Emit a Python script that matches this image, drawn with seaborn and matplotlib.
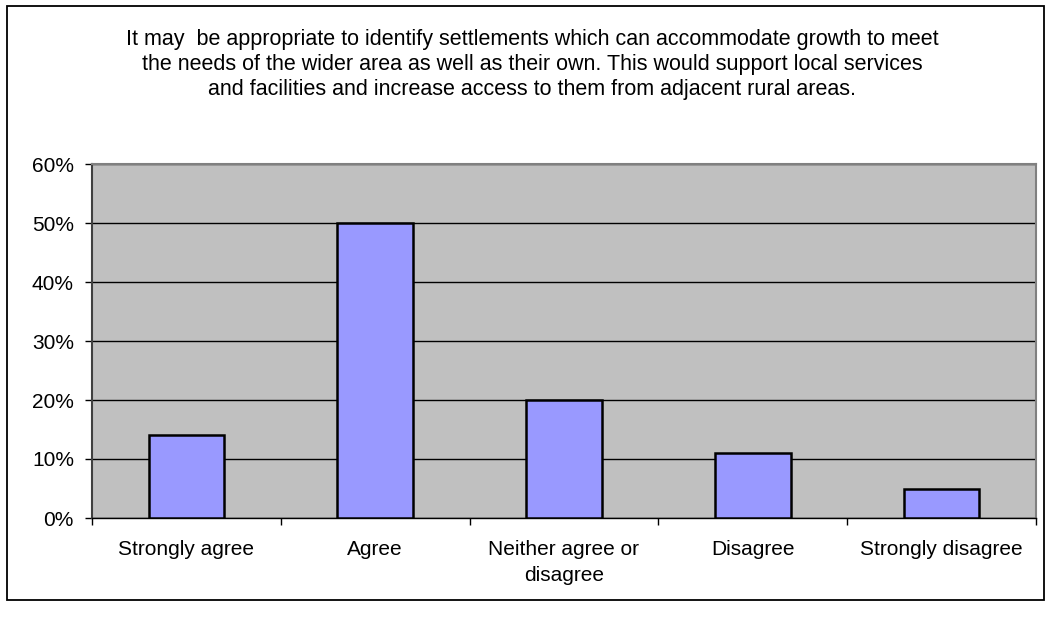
import matplotlib
matplotlib.use("Agg")
import matplotlib.pyplot as plt
from matplotlib.patches import Rectangle
from matplotlib.ticker import MultipleLocator, PercentFormatter
import seaborn as sns
import pandas as pd

categories = ["Strongly agree", "Agree", "Neither agree or\ndisagree", "Disagree", "Strongly disagree"]
percentages = [14, 50, 20, 11, 5]
title_text = ("It may  be appropriate to identify settlements which can accommodate growth to meet\n"
              "the needs of the wider area as well as their own. This would support local services\n"
              "and facilities and increase access to them from adjacent rural areas.")

sns.set_theme(style="white")
plt.rcParams["font.family"] = ["Liberation Sans", "DejaVu Sans"]

W, H = 1045, 618
fig = plt.figure(figsize=(W / 100, H / 100), dpi=100)
ax = fig.add_axes([92 / W, 100 / H, 944 / W, 354 / H])

df = pd.DataFrame({"category": categories, "value": percentages})
sns.barplot(data=df, x="category", y="value", ax=ax, color="#9999FF",
            saturation=1, width=0.4, edgecolor="black", linewidth=1.8, zorder=3)

ax.set_facecolor("#C0C0C0")
ax.set_ylim(0, 60)
ax.set_xlim(-0.5, len(categories) - 0.5)
ax.yaxis.set_major_locator(MultipleLocator(10))
ax.yaxis.set_major_formatter(PercentFormatter(decimals=0))
ax.grid(axis="y", color="black", linewidth=1.0, zorder=1)
ax.set_axisbelow(True)
ax.set_xlabel("")
ax.set_ylabel("")

# category boundary ticks on the x axis
ax.set_xticks([i - 0.5 for i in range(len(categories) + 1)], minor=True)
ax.tick_params(axis="x", which="minor", length=5, width=1, color="black", bottom=True)
ax.tick_params(axis="x", which="major", length=0, pad=16, labelsize=15, labelcolor="black")
ax.tick_params(axis="y", which="major", length=5, width=1, color="black", left=True,
               pad=8, labelsize=15, labelcolor="black")
for lbl in ax.get_xticklabels():
    lbl.set_linespacing(1.42)

for side in ("top", "right"):
    ax.spines[side].set_color("#808080")
    ax.spines[side].set_linewidth(1.5)
ax.spines["left"].set_color("#404040")
ax.spines["left"].set_linewidth(1.5)
ax.spines["bottom"].set_color("black")
ax.spines["bottom"].set_linewidth(1.0)

fig.text(532 / W, 1 - 29 / H, title_text, ha="center", va="top", fontsize=15.5,
         linespacing=1.25, color="black")

# chart area border
fig.patches.append(Rectangle((7 / W, 18 / H), 1037 / W, 594 / H, transform=fig.transFigure,
                             fill=False, edgecolor="black", linewidth=1.3))

fig.savefig("out.png", dpi=100)
